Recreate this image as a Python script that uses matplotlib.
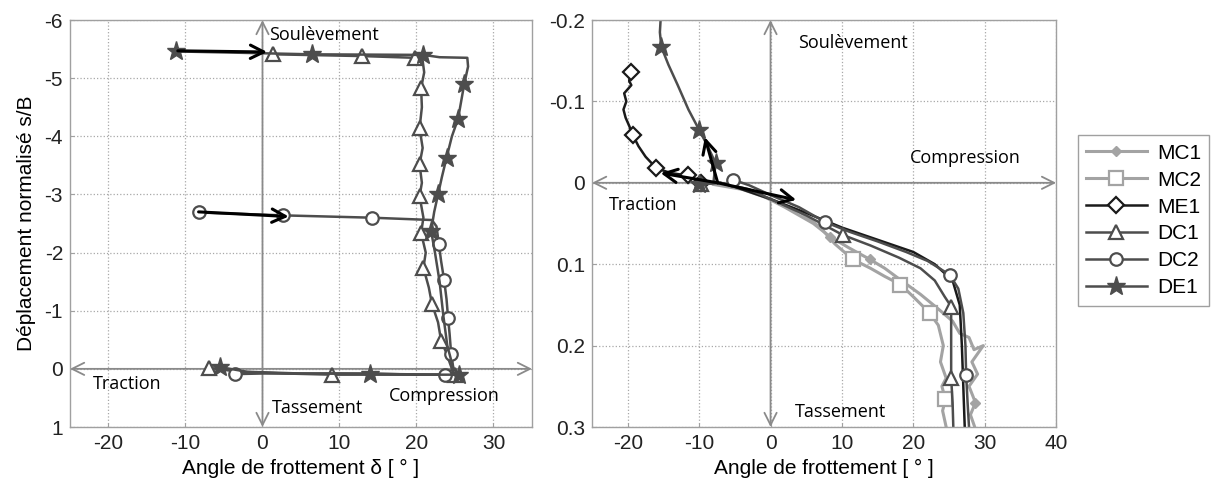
import numpy as np
import matplotlib.pyplot as plt

# ---- left panel data (angle delta, normalised displacement s/B) ----
dc1_l_x = [-7.0, -6.0, -3.0, 3.0, 9.0, 17.0, 25.0, 24.6, 23.8, 23.2, 22.8, 22.0, 21.6, 20.9, 21.2,
           20.6, 20.9, 20.4, 20.7, 20.4, 20.8, 20.4, 20.7, 20.6, 21.0, 20.8, 19.8, 12.9, 1.4]
dc1_l_y = [-0.02, 0.0, 0.05, 0.08, 0.10, 0.10, 0.10, 0.0, -0.3, -0.48, -0.8, -1.12, -1.4, -1.74, -2.0,
           -2.34, -2.6, -2.97, -3.2, -3.52, -3.8, -4.14, -4.5, -4.83, -5.1, -5.30, -5.35, -5.38, -5.41]
dc1_l_m = [0, 4, 6, 9, 11, 13, 15, 17, 19, 21, 23, 26, 27, 28]

de1_l_x = [-5.5, -2.0, 5.0, 14.0, 20.0, 25.5, 24.8, 24.0, 23.5, 23.0, 22.4, 21.9, 22.3, 22.8, 23.3,
           23.9, 24.6, 25.4, 25.8, 26.2, 26.7, 26.6, 23.0, 20.9, 6.4, -11.2]
de1_l_y = [-0.03, 0.05, 0.08, 0.08, 0.10, 0.10, 0.0, -0.4, -0.9, -1.5, -2.0, -2.37, -2.7, -3.0, -3.3,
           -3.63, -4.0, -4.3, -4.6, -4.9, -5.2, -5.35, -5.36, -5.40, -5.41, -5.46]
de1_l_m = [0, 3, 5, 11, 13, 15, 17, 19, 23, 24, 25]

dc2_l_x = [-3.6, 0.0, 10.0, 23.7, 24.8, 24.5, 24.3, 24.1, 23.9, 23.6, 23.2, 22.9, 22.6, 22.0, 14.2, 2.7, -8.3]
dc2_l_y = [0.09, 0.08, 0.08, 0.10, 0.0, -0.26, -0.6, -0.88, -1.2, -1.52, -1.85, -2.15, -2.45, -2.56,
           -2.60, -2.64, -2.69]
dc2_l_m = [0, 3, 5, 7, 9, 11, 14, 15, 16]

# ---- right panel data ----
mc1_x = [-9.0, -6.0, -2.0, 2.0, 6.0, 8.3, 11.0, 13.9, 16.0, 18.0, 21.0, 23.5, 25.5, 26.5, 27.8,
         28.5, 29.8, 28.2, 29.0, 27.8, 28.7, 28.0, 28.6]
mc1_y = [0.0, 0.003, 0.012, 0.03, 0.05, 0.066, 0.08, 0.094, 0.105, 0.118, 0.137, 0.155, 0.17, 0.185,
         0.19, 0.205, 0.20, 0.22, 0.235, 0.25, 0.27, 0.285, 0.30]
mc1_m = [5, 7, 20]

mc2_x = [-8.0, -4.0, 0.0, 4.0, 7.0, 9.0, 11.5, 14.0, 16.0, 18.2, 20.0, 22.3, 23.5, 24.2, 23.8,
         24.6, 24.0, 24.5, 24.1, 24.6]
mc2_y = [0.002, 0.008, 0.02, 0.035, 0.055, 0.075, 0.094, 0.105, 0.115, 0.125, 0.14, 0.16, 0.175,
         0.20, 0.22, 0.24, 0.25, 0.266, 0.28, 0.30]
mc2_m = [6, 9, 11, 17]

me1_x = [-19.6, -19.8, -19.5, -20.5, -20.2, -20.6, -20.3, -19.8, -19.3, -18.5, -17.5, -16.0, -14.0,
         -11.6, -9.8, -7.0, -5.0, 0.0, 5.0, 10.0, 15.0, 20.0, 23.0, 25.5, 26.5, 26.8, 27.0, 27.2]
me1_y = [-0.136, -0.125, -0.12, -0.11, -0.10, -0.09, -0.08, -0.07, -0.059, -0.045, -0.032, -0.018,
         -0.012, -0.009, 0.0, 0.0, 0.005, 0.02, 0.037, 0.055, 0.07, 0.085, 0.10, 0.12, 0.15, 0.20, 0.25, 0.30]
me1_m = [0, 8, 11, 13, 14]

dc2_r_x = [-5.3, -3.0, 0.0, 4.0, 7.6, 11.0, 15.0, 19.0, 22.0, 25.1, 26.3, 27.0, 27.3, 27.4, 27.6, 27.8]
dc2_r_y = [-0.004, 0.003, 0.015, 0.03, 0.048, 0.06, 0.072, 0.085, 0.096, 0.113, 0.13, 0.16, 0.20,
           0.236, 0.27, 0.30]
dc2_r_m = [0, 4, 9, 13]

dc1_r_x = [-9.7, -7.0, -3.0, 0.0, 5.0, 10.1, 14.0, 18.0, 21.0, 23.0, 24.4, 25.3, 25.3, 25.3, 25.5, 25.6]
dc1_r_y = [0.002, 0.0, 0.008, 0.02, 0.04, 0.064, 0.077, 0.092, 0.105, 0.12, 0.14, 0.152, 0.20, 0.24,
           0.27, 0.30]
dc1_r_m = [0, 5, 11, 13]

de1_r_x = [-10.0, -8.0, -7.7, -8.8, -10.0, -11.5, -13.0, -14.3, -15.3, -15.5, -15.4, -15.3]
de1_r_y = [0.002, 0.0, -0.024, -0.045, -0.065, -0.09, -0.12, -0.145, -0.167, -0.185, -0.20, -0.21]
de1_r_m = [0, 2, 4, 8]

light = '#a3a3a3'
dark = '#4d4d4d'
black = '#1a1a1a'
axis_grey = '#8a8a8a'

plt.rcParams['font.family'] = ['Liberation Sans', 'DejaVu Sans']
plt.rcParams['axes.unicode_minus'] = False

fig = plt.figure(figsize=(12.11, 4.87), dpi=100)
ax1 = fig.add_axes([0.0578, 0.1232, 0.3815, 0.8357])
ax2 = fig.add_axes([0.4889, 0.1232, 0.3832, 0.8357])


def style(ax):
    ax.grid(True, linestyle=':', color='#a8a8a8', linewidth=0.9)
    ax.set_axisbelow(True)
    for s in ax.spines.values():
        s.set_color('#a0a0a0')
        s.set_linewidth(1.0)
    ax.tick_params(direction='in', length=3, color='#a0a0a0', labelsize=15, labelcolor='#222222', pad=5)


style(ax1)
style(ax2)

# axis arrows (drawn first so data sits on top)
arr = dict(arrowstyle='<->', color=axis_grey, lw=1.3, mutation_scale=22, shrinkA=0, shrinkB=0)
ax1.annotate('', xy=(0, -6), xytext=(0, 1), arrowprops=arr, zorder=1)
ax1.annotate('', xy=(35, 0), xytext=(-25, 0), arrowprops=arr, zorder=1)
ax2.annotate('', xy=(0, -0.2), xytext=(0, 0.3), arrowprops=arr, zorder=1)
ax2.annotate('', xy=(40, 0), xytext=(-25, 0), arrowprops=arr, zorder=1)

mk = dict(markerfacecolor='white', markeredgewidth=1.6)

# left panel
ax1.plot(dc1_l_x, dc1_l_y, color=dark, lw=1.8, marker='^', ms=10, markevery=dc1_l_m,
         markeredgecolor=dark, **mk)
ax1.plot(dc2_l_x, dc2_l_y, color=dark, lw=1.8, marker='o', ms=9, markevery=dc2_l_m,
         markeredgecolor=dark, **mk)
ax1.plot(de1_l_x, de1_l_y, color=dark, lw=1.8, marker='*', ms=14, markevery=de1_l_m,
         markerfacecolor=dark, markeredgecolor=dark)

# right panel
ax2.plot(mc1_x, mc1_y, color=light, lw=2.2, marker='D', ms=5, markevery=mc1_m,
         markerfacecolor=light, markeredgecolor=light, label='MC1')
ax2.plot(mc2_x, mc2_y, color=light, lw=2.2, marker='s', ms=10, markevery=mc2_m,
         markeredgecolor=light, label='MC2', **mk)
ax2.plot(me1_x, me1_y, color=black, lw=1.8, marker='D', ms=8, markevery=me1_m,
         markeredgecolor=black, label='ME1', **mk)
ax2.plot(dc1_r_x, dc1_r_y, color=dark, lw=1.8, marker='^', ms=10, markevery=dc1_r_m,
         markeredgecolor=dark, label='DC1', **mk)
ax2.plot(dc2_r_x, dc2_r_y, color=dark, lw=1.8, marker='o', ms=9, markevery=dc2_r_m,
         markeredgecolor=dark, label='DC2', **mk)
ax2.plot(de1_r_x, de1_r_y, color=dark, lw=1.8, marker='*', ms=14, markevery=de1_r_m,
         markerfacecolor=dark, markeredgecolor=dark, label='DE1')

# direction arrows
blk = dict(arrowstyle='->', color='black', lw=2.2, mutation_scale=24, shrinkA=0, shrinkB=0)
ax1.annotate('', xy=(0.6, -5.45), xytext=(-11.0, -5.47), arrowprops=blk, zorder=5)
ax1.annotate('', xy=(3.4, -2.62), xytext=(-8.3, -2.70), arrowprops=blk, zorder=5)
ax2.annotate('', xy=(-15.4, -0.012), xytext=(-7.4, 0.0), arrowprops=blk, zorder=5)
ax2.annotate('', xy=(-9.2, -0.056), xytext=(-7.4, 0.0), arrowprops=blk, zorder=5)
ax2.annotate('', xy=(3.6, 0.021), xytext=(-7.4, 0.0), arrowprops=blk, zorder=5)

# text labels
tf = dict(fontsize=13, family=['Open Sans', 'DejaVu Sans'], color='black')
ax1.text(0.9, -5.74, 'Soulèvement', va='center', ha='left', **tf)
ax1.text(-22.0, 0.26, 'Traction', va='center', ha='left', **tf)
ax1.text(1.2, 0.67, 'Tassement', va='center', ha='left', **tf)
ax1.text(16.4, 0.46, 'Compression', va='center', ha='left', **tf)
ax2.text(3.8, -0.172, 'Soulèvement', va='center', ha='left', **tf)
ax2.text(19.5, -0.031, 'Compression', va='center', ha='left', **tf)
ax2.text(-22.6, 0.027, 'Traction', va='center', ha='left', **tf)
ax2.text(3.4, 0.282, 'Tassement', va='center', ha='left', **tf)

# axes limits and ticks
ax1.set_xlim(-25, 35)
ax1.set_ylim(1, -6)
ax1.set_xticks(np.arange(-20, 31, 10))
ax1.set_yticks(np.arange(-6, 2, 1))
ax1.set_xlabel('Angle de frottement δ [ ° ]', fontsize=15, labelpad=4)
ax1.set_ylabel('Déplacement normalisé s/B', fontsize=15, labelpad=6)

ax2.set_xlim(-25, 40)
ax2.set_ylim(0.3, -0.2)
ax2.set_xticks(np.arange(-20, 41, 10))
ax2.set_yticks([-0.2, -0.1, 0, 0.1, 0.2, 0.3])
ax2.set_yticklabels(['-0.2', '-0.1', '0', '0.1', '0.2', '0.3'])
ax2.set_xlabel('Angle de frottement [ ° ]', fontsize=15, labelpad=4)

leg = fig.legend(*ax2.get_legend_handles_labels(), loc='upper left', bbox_to_anchor=(0.890, 0.722),
                 fontsize=15, handlelength=2.9, labelspacing=0.38, fancybox=False, framealpha=1,
                 borderpad=0.4, handletextpad=0.5, borderaxespad=0)
leg.get_frame().set_edgecolor('#a0a0a0')
leg.get_frame().set_linewidth(1.0)

plt.savefig('out.png', dpi=100)
